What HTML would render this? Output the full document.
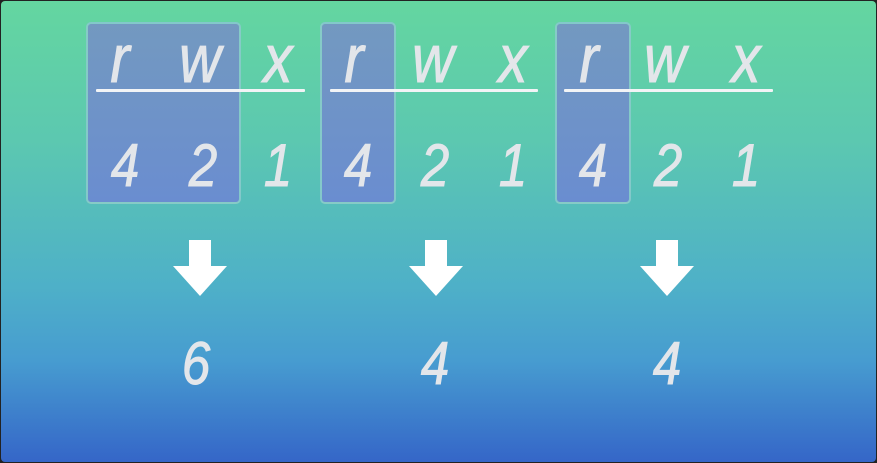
<!DOCTYPE html>
<html><head><meta charset="utf-8"><style>
html,body{margin:0;padding:0;width:877px;height:463px;overflow:hidden;background:#222}
#stage{position:absolute;left:1px;top:1px;width:875px;height:461px;border-radius:4px;background:linear-gradient(to bottom,#64d6a0 0%,#5cc8b0 30%,#4eb0c8 62%,#479cd0 78%,#3566c8 100%);overflow:hidden}
.box{position:absolute;top:21px;height:182px;border:2px solid rgba(140,220,200,0.75);border-radius:5px;background:linear-gradient(to bottom,#7399c0,#6a8dd0);box-sizing:border-box}
.line{position:absolute;top:88px;height:3px;background:#f2f4f6;border-radius:1px}
.t{position:absolute;font-family:"Liberation Sans Narrow","Liberation Sans",sans-serif;font-style:italic;color:#e3e6ea;-webkit-text-stroke:1px #e3e6ea;transform:translateX(-50%) scaleX(0.85);line-height:1}
.l{font-size:68px;top:24px}
.n{font-size:60px;top:135px}
.res{font-size:60px;top:333px}
.arrow{position:absolute;top:237px;width:60px;height:60px}
</style></head><body>
<div id="stage">
<div class="box" style="left:85px;width:155px"></div>
<div class="box" style="left:319px;width:76px"></div>
<div class="box" style="left:554px;width:76px"></div>
<div class="line" style="left:95px;width:209px"></div>
<div class="line" style="left:329px;width:208px"></div>
<div class="line" style="left:563px;width:209px"></div>

<div class="t l" style="left:119px">r</div>
<div class="t l" style="left:199px">w</div>
<div class="t l" style="left:277px">x</div>
<div class="t l" style="left:353px">r</div>
<div class="t l" style="left:432px">w</div>
<div class="t l" style="left:512px">x</div>
<div class="t l" style="left:588px">r</div>
<div class="t l" style="left:664px">w</div>
<div class="t l" style="left:745px">x</div>

<div class="t n" style="left:124px">4</div>
<div class="t n" style="left:202px">2</div>
<div class="t n" style="left:277px">1</div>
<div class="t n" style="left:357px">4</div>
<div class="t n" style="left:434px">2</div>
<div class="t n" style="left:512px">1</div>
<div class="t n" style="left:592px">4</div>
<div class="t n" style="left:667px">2</div>
<div class="t n" style="left:745px">1</div>

<svg class="arrow" style="left:169px" viewBox="0 0 60 60"><path d="M19 2h22v26h16L30 58 3 28h16z" fill="#fff"/></svg>
<svg class="arrow" style="left:405px" viewBox="0 0 60 60"><path d="M19 2h22v26h16L30 58 3 28h16z" fill="#fff"/></svg>
<svg class="arrow" style="left:636px" viewBox="0 0 60 60"><path d="M19 2h22v26h16L30 58 3 28h16z" fill="#fff"/></svg>

<div class="t res" style="left:195px">6</div>
<div class="t res" style="left:434px">4</div>
<div class="t res" style="left:666px">4</div>
</div>
</body></html>
